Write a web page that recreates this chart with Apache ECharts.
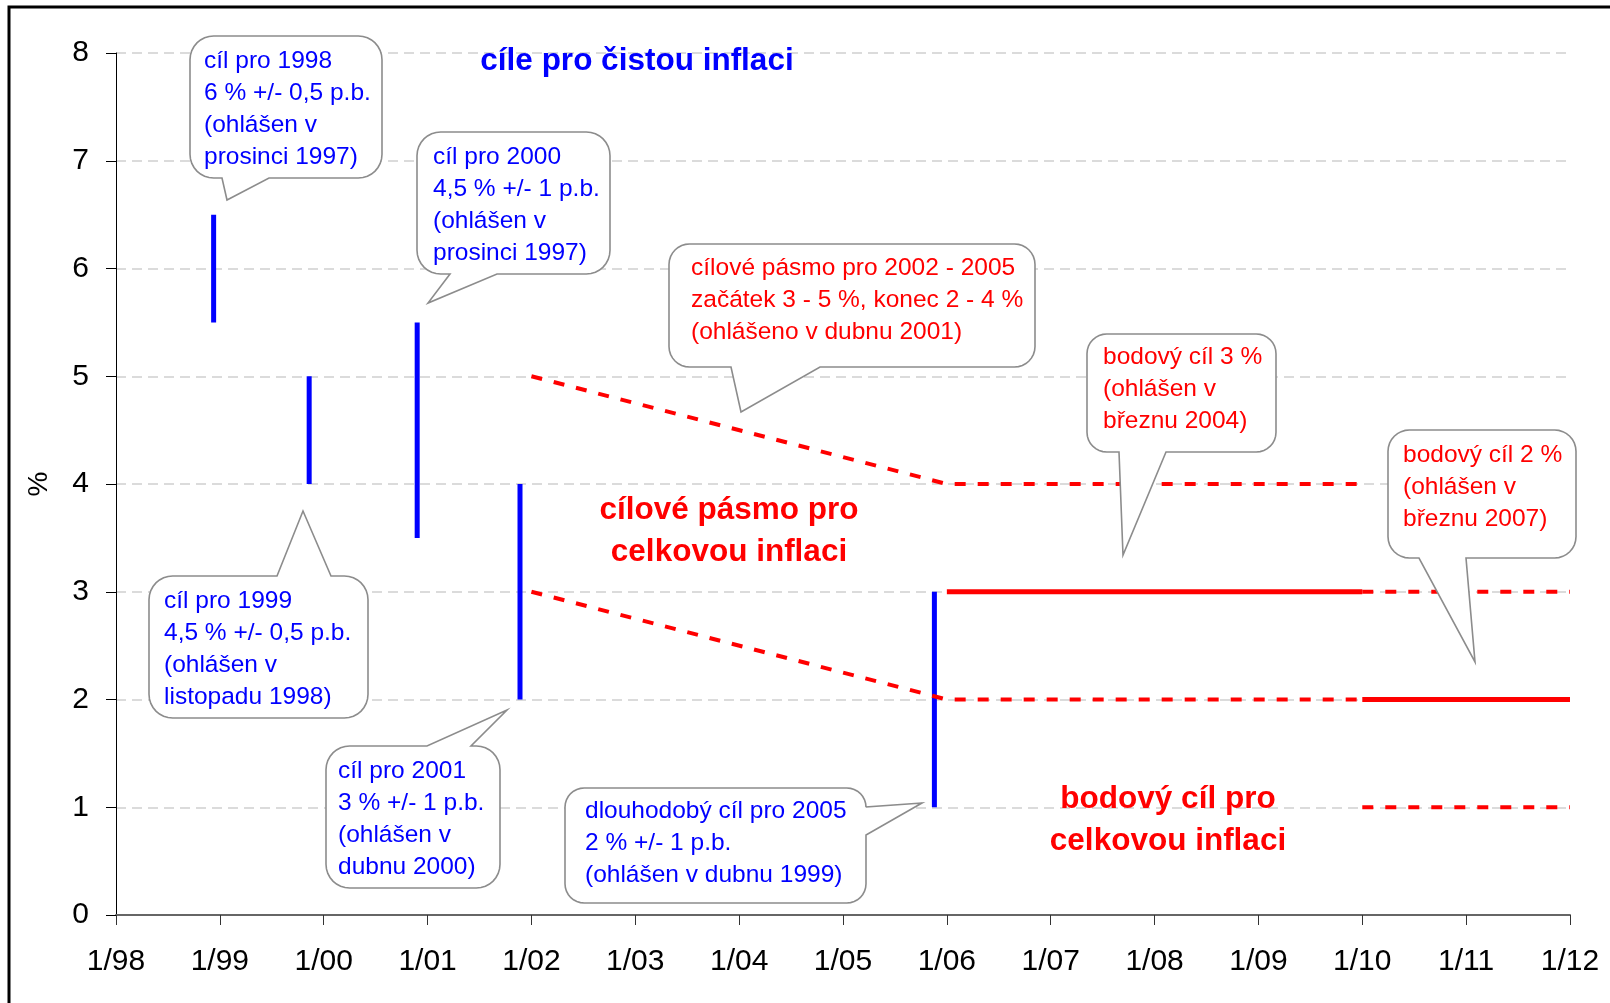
<!DOCTYPE html>
<html>
<head>
<meta charset="utf-8">
<script src="https://cdn.jsdelivr.net/npm/echarts@6/dist/echarts.min.js"></script>
<style>
  html, body { margin: 0; padding: 0; background: #fff; }
  #chart { width: 1610px; height: 1003px; }
</style>
</head>
<body>
<div id="chart"></div>
<script>
// cíle pro čistou inflaci (svislé úsečky)
const targetDates = [1998.94, 1999.86, 2000.9, 2001.89, 2005.88];
const targetLow = [5.5, 4, 3.5, 2, 1];
const targetHigh = [6.5, 5, 5.5, 4, 3];

// cílové pásmo pro celkovou inflaci
const bandDates = [2002, 2006, 2010];
const bandUpper = [5, 4, 4];
const bandLower = [3, 2, 2];

// bodový cíl 3 % a 2 %
const point3Dates = [2006, 2010];
const point3Values = [3, 3];
const point2Dates = [2010, 2012];
const point2Values = [2, 2];

// pásmo tolerance kolem 2 %
const tolDates = [2010, 2012];
const tolUpper = [3, 3];
const tolLower = [1, 1];

const BLUE = '#0000ff';
const RED = '#ff0000';
const FONT = '"Liberation Sans", Arial, sans-serif';

const zip = (xs, ys) => xs.map((x, i) => [x, ys[i]]);

const series = [];

// modré úsečky
targetDates.forEach((d, i) => {
  series.push({
    type: 'line',
    data: [[d, targetLow[i]], [d, targetHigh[i]]],
    symbol: 'none',
    lineStyle: { color: BLUE, width: 5, cap: 'butt' },
    z: 3
  });
});

const dashed = { color: RED, width: 4, type: [11, 12], cap: 'butt' };
const solid = { color: RED, width: 5, cap: 'butt' };

[
  [zip(bandDates, bandUpper), dashed],
  [zip(bandDates, bandLower), dashed],
  [zip(tolDates, tolUpper), dashed],
  [zip(tolDates, tolLower), dashed],
  [zip(point3Dates, point3Values), solid],
  [zip(point2Dates, point2Values), solid]
].forEach(([data, style]) => {
  series.push({ type: 'line', data: data, symbol: 'none', lineStyle: style, z: 4 });
});

// popisky - bubliny
const callouts = [
  { box: [190, 36, 192, 142], tail: { side: 'bottom', a: 222, b: 269, tip: [227, 200] },
    text: ['cíl pro 1998', '6 % +/- 0,5 p.b.', '(ohlášen v', 'prosinci 1997)'], tx: 204, ty: 45, color: BLUE },
  { box: [417, 132, 193, 142], tail: { side: 'bottom', a: 450, b: 497, tip: [428, 303] },
    text: ['cíl pro 2000', '4,5 % +/- 1 p.b.', '(ohlášen v', 'prosinci 1997)'], tx: 433, ty: 141, color: BLUE },
  { box: [669, 244, 366, 123], tail: { side: 'bottom', a: 731, b: 820, tip: [741, 412] },
    text: ['cílové pásmo pro 2002 - 2005', 'začátek 3 - 5 %, konec 2 - 4 %', '(ohlášeno v dubnu 2001)'], tx: 691, ty: 252, color: RED },
  { box: [1087, 334, 189, 118], tail: { side: 'bottom', a: 1119, b: 1166, tip: [1123, 555] },
    text: ['bodový cíl 3 %', '(ohlášen v', 'březnu 2004)'], tx: 1103, ty: 341, color: RED },
  { box: [1388, 430, 188, 128], tail: { side: 'bottom', a: 1419, b: 1466, tip: [1475, 662] },
    text: ['bodový cíl 2 %', '(ohlášen v', 'březnu 2007)'], tx: 1403, ty: 439, color: RED },
  { box: [149, 576, 219, 142], tail: { side: 'top', a: 277, b: 331, tip: [303, 511] },
    text: ['cíl pro 1999', '4,5 % +/- 0,5 p.b.', '(ohlášen v', 'listopadu 1998)'], tx: 164, ty: 585, color: BLUE },
  { box: [326, 746, 174, 142], tail: { side: 'top', a: 427, b: 471, tip: [507, 710] },
    text: ['cíl pro 2001', '3 % +/- 1 p.b.', '(ohlášen v', 'dubnu 2000)'], tx: 338, ty: 755, color: BLUE },
  { box: [565, 788, 301, 115], tail: { side: 'right', a: 807, b: 835, tip: [922, 803] },
    text: ['dlouhodobý cíl pro 2005', '2 % +/- 1 p.b.', '(ohlášen v dubnu 1999)'], tx: 585, ty: 795, color: BLUE }
];

function calloutPoints(c) {
  const [x, y, w, h] = c.box;
  const r = Math.min(w, h) / 6;
  const t = c.tail;
  const pts = [];
  const arc = (cx, cy, a0, a1) => {
    for (let i = 0; i <= 8; i++) {
      const a = a0 + (a1 - a0) * i / 8;
      pts.push([cx + r * Math.cos(a), cy + r * Math.sin(a)]);
    }
  };
  arc(x + r, y + r, Math.PI, Math.PI * 1.5);
  if (t.side === 'top') pts.push([t.a, y], t.tip, [t.b, y]);
  arc(x + w - r, y + r, -Math.PI / 2, 0);
  if (t.side === 'right') pts.push([x + w, t.a], t.tip, [x + w, t.b]);
  arc(x + w - r, y + h - r, 0, Math.PI / 2);
  if (t.side === 'bottom') pts.push([t.b, y + h], t.tip, [t.a, y + h]);
  arc(x + r, y + h - r, Math.PI / 2, Math.PI);
  return pts;
}

const graphics = [];
callouts.forEach(c => {
  graphics.push({
    type: 'polygon', z: 100,
    shape: { points: calloutPoints(c) },
    style: { fill: '#fff', stroke: '#8c8c8c', lineWidth: 1.6 }
  });
  graphics.push({
    type: 'text', z: 101, x: c.tx, y: c.ty,
    style: { text: c.text.join('\n'), fill: c.color, font: '24.5px ' + FONT, lineHeight: 32, verticalAlign: 'top' }
  });
});

// velké nadpisy
const titles = [
  { text: 'cíle pro čistou inflaci', x: 637, y: 61, color: BLUE },
  { text: 'cílové pásmo pro\ncelkovou inflaci', x: 729, y: 531, color: RED },
  { text: 'bodový cíl pro\ncelkovou inflaci', x: 1168, y: 820, color: RED }
];
titles.forEach(t => {
  graphics.push({
    type: 'text', z: 101, x: t.x, y: t.y,
    style: { text: t.text, fill: t.color, font: 'bold 31.5px ' + FONT, lineHeight: 42, align: 'center', verticalAlign: 'middle' }
  });
});

// rámeček
graphics.push({
  type: 'rect', z: 0,
  shape: { x: 9, y: 7, width: 1700, height: 1100 },
  style: { fill: 'none', stroke: '#000', lineWidth: 3 }
});

const chart = echarts.init(document.getElementById('chart'));
chart.setOption({
  animation: false,
  backgroundColor: '#fff',
  grid: { left: 116, top: 53, right: 40, bottom: 88 },
  xAxis: {
    type: 'value',
    min: 1998, max: 2012, interval: 1,
    axisLine: { lineStyle: { color: '#666', width: 2 } },
    axisTick: { show: true, length: 10, lineStyle: { color: '#333', width: 1 } },
    splitLine: { show: false },
    axisLabel: {
      color: '#000', fontSize: 30, fontFamily: FONT, margin: 32,
      formatter: v => '1/' + String(v % 100).padStart(2, '0')
    }
  },
  yAxis: {
    type: 'value',
    min: 0, max: 8, interval: 1,
    name: '%', nameLocation: 'middle', nameGap: 63, nameRotate: 90,
    nameTextStyle: { color: '#000', fontSize: 28, fontFamily: FONT },
    axisLine: { show: true, lineStyle: { color: '#000', width: 1 } },
    axisTick: { show: true, length: 10, lineStyle: { color: '#000' } },
    splitLine: { lineStyle: { color: '#d0d0d0', width: 1.5, type: [10, 6] } },
    axisLabel: { color: '#000', fontSize: 30, fontFamily: FONT, margin: 27 }
  },
  series: series,
  graphic: graphics
});
</script>
</body>
</html>
